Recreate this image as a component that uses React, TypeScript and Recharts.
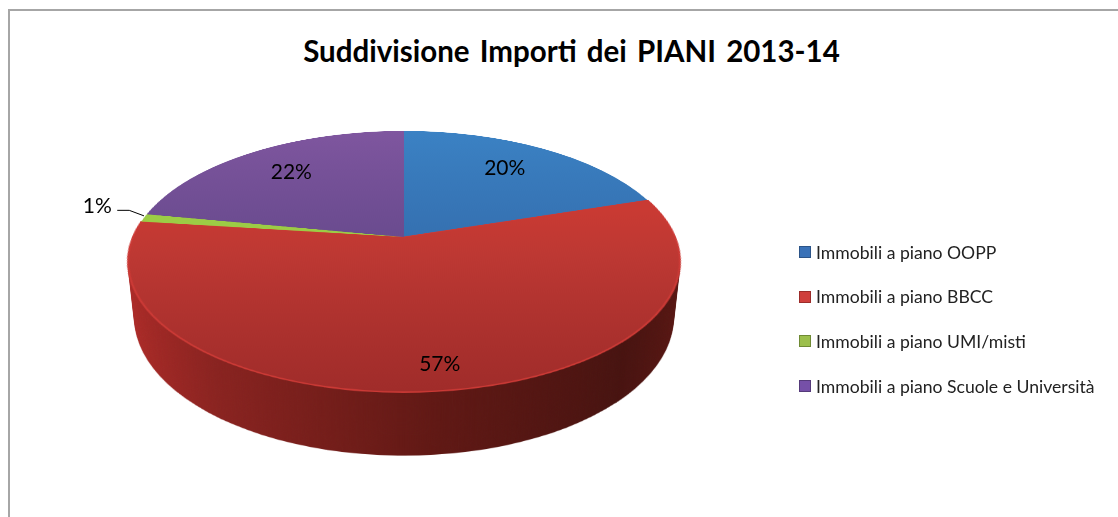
import { Cell, Legend, Pie, PieChart } from "recharts";

const NAMES = [
  "Immobili a piano OOPP",
  "Immobili a piano BBCC",
  "Immobili a piano UMI/misti",
  "Immobili a piano Scuole e Università",
];
const VALUES = [20, 57, 1, 22];
const LABELS = ["20%", "57%", "1%", "22%"];

const rows = NAMES.map((name, i) => ({ name, value: VALUES[i] }));

const TOP_FILLS = ["url(#topBlue)", "url(#topRed)", "url(#topGreen)", "url(#topPurple)"];
const TOP_RIMS = ["none", "#cc3a36", "none", "none"];
const SWATCHES = ["#3a72b8", "#cf3f3c", "#9cbf4c", "#7650a8"];
const SWATCH_EDGES = ["#2c5488", "#9c2c2a", "#6f8a34", "#553a7a"];
const SIDE_FILLS = ["#24487a", "url(#sideRed)", "#5f7a2a", "#4a3570"];

// projection of the tilted disc
const RADIUS = 271;
const PERSPECTIVE = 1278;
const TILT = 62.3;
const DEPTH = 64;
const CX = 404;
const CY = 237;
const BOX = 640;

const cosT = Math.cos((TILT * Math.PI) / 180);
const sinT = Math.sin((TILT * Math.PI) / 180);

const project = (dx: number, dy: number) => {
  const k = PERSPECTIVE / (PERSPECTIVE - dy * sinT);
  return { x: CX + dx * k, y: CY + dy * cosT * k };
};

// how far out each label sits, as a share of the radius, with a small nudge
const LABEL_RADIUS = [0.7, 0.85, 1.19, 0.72];
const LABEL_NUDGE_X = [0, 10, 1, 0];
const LABEL_NUDGE_Y = [-6, -1, -10, -3];

const layerDepths = Array.from({ length: DEPTH }, (_, i) => DEPTH - i);

function Gradients() {
  const top = BOX / 2 - RADIUS;
  const bottom = BOX / 2 + RADIUS;
  const stops = (id: string, from: string, to: string) => (
    <linearGradient id={id} gradientUnits="userSpaceOnUse" x1="0" y1={top} x2="0" y2={bottom}>
      <stop offset="0" stopColor={from} />
      <stop offset="1" stopColor={to} />
    </linearGradient>
  );
  return (
    <defs>
      {stops("topBlue", "#3b82c4", "#2f5f9e")}
      {stops("topPurple", "#7f569f", "#55407f")}
      {stops("topGreen", "#9ccc45", "#9ccc45")}
      <linearGradient id="topRed" gradientUnits="userSpaceOnUse" x1="0" y1={BOX / 2 - 60} x2="0" y2={bottom}>
        <stop offset="0" stopColor="#c93a33" />
        <stop offset="0.3" stopColor="#bd3833" />
        <stop offset="1" stopColor="#a02c2a" />
      </linearGradient>
      <linearGradient id="sideRed" gradientUnits="userSpaceOnUse" x1={BOX / 2 - RADIUS} y1="0" x2={BOX / 2 + RADIUS} y2="0">
        <stop offset="0" stopColor="#b02b28" />
        <stop offset="0.2" stopColor="#8a2320" />
        <stop offset="0.55" stopColor="#601814" />
        <stop offset="0.85" stopColor="#471310" />
        <stop offset="1" stopColor="#5a1612" />
      </linearGradient>
    </defs>
  );
}

function Disc({ depth, fills, rims }: { depth: number; fills: string[]; rims?: string[] }) {
  return (
    <div
      style={{
        position: "absolute",
        left: CX - BOX / 2,
        top: CY - BOX / 2,
        width: BOX,
        height: BOX,
        transformOrigin: "50% 50%",
        transform: `perspective(${PERSPECTIVE}px) rotateX(${TILT}deg) translateZ(${-depth}px)`,
      }}
    >
      <PieChart width={BOX} height={BOX} margin={{ top: 0, right: 0, bottom: 0, left: 0 }}>
        <Gradients />
        <Pie
          data={rows}
          dataKey="value"
          nameKey="name"
          cx={BOX / 2}
          cy={BOX / 2}
          outerRadius={RADIUS}
          startAngle={90}
          endAngle={-270}
          stroke="none"
          isAnimationActive={false}
        >
          {rows.map((_, i) => (
            <Cell key={i} fill={fills[i]} stroke={rims ? rims[i] : "none"} strokeWidth={2} />
          ))}
        </Pie>
      </PieChart>
    </div>
  );
}

function renderLabel(props: any) {
  const { midAngle, index } = props;
  const rad = (midAngle * Math.PI) / 180;
  const dirX = Math.cos(rad);
  const dirY = -Math.sin(rad);
  const r = RADIUS * LABEL_RADIUS[index];
  const p = project(dirX * r, dirY * r);
  const x = p.x + LABEL_NUDGE_X[index];
  const y = p.y + LABEL_NUDGE_Y[index];
  const edge = project(dirX * RADIUS, dirY * RADIUS);
  return (
    <g key={index}>
      {LABEL_RADIUS[index] > 1 && (
        <path
          d={`M${x + 20} ${y + 6} L${x + 32} ${y + 6} L${edge.x} ${edge.y - 2}`}
          fill="none"
          stroke="#000"
          strokeWidth={1}
        />
      )}
      <text
        x={x}
        y={y}
        textAnchor="middle"
        dominantBaseline="central"
        fontFamily="Lato, sans-serif"
        fontSize={21}
        fill="#000"
      >
        {LABELS[index]}
      </text>
    </g>
  );
}

function LegendList() {
  return (
    <div style={{ fontFamily: "Lato, sans-serif", fontSize: 17.6, color: "#222" }}>
      {NAMES.map((name, i) => (
        <div key={name} style={{ display: "flex", alignItems: "center", height: 44.6, whiteSpace: "nowrap" }}>
          <span
            style={{
              width: 12,
              height: 12,
              boxSizing: "border-box",
              background: SWATCHES[i],
              border: `1px solid ${SWATCH_EDGES[i]}`,
              marginRight: 5,
            }}
          />
          {name}
        </div>
      ))}
    </div>
  );
}

export default function App() {
  return (
    <div
      style={{
        position: "absolute",
        left: 0,
        top: 0,
        width: 1118,
        height: 517,
        overflow: "hidden",
        background: "#fff",
      }}
    >
      <div
        style={{
          position: "absolute",
          left: 8,
          top: 9,
          width: 1130,
          height: 530,
          border: "2px solid #a6a6a6",
          boxSizing: "border-box",
        }}
      />

      {layerDepths.map((d) => (
        <Disc key={d} depth={d} fills={SIDE_FILLS} />
      ))}
      <Disc depth={0} fills={TOP_FILLS} rims={TOP_RIMS} />

      <div
        style={{
          position: "absolute",
          left: 0,
          top: 33,
          width: 1143,
          textAlign: "center",
          fontFamily: "Lato, sans-serif",
          fontWeight: 700,
          fontSize: 29.5,
          wordSpacing: 3,
          color: "#000",
        }}
      >
        Suddivisione Importi dei PIANI 2013-14
      </div>

      <div style={{ position: "absolute", left: 0, top: 0 }}>
        <PieChart width={1118} height={517} margin={{ top: 0, right: 0, bottom: 0, left: 0 }}>
          <Pie
            data={rows}
            dataKey="value"
            nameKey="name"
            cx={CX}
            cy={CY}
            outerRadius={RADIUS}
            startAngle={90}
            endAngle={-270}
            fill="none"
            stroke="none"
            label={renderLabel}
            labelLine={false}
            isAnimationActive={false}
          />
          <Legend
            layout="vertical"
            align="left"
            verticalAlign="top"
            wrapperStyle={{ left: 799, top: 230, width: 315 }}
            content={() => <LegendList />}
          />
        </PieChart>
      </div>
    </div>
  );
}
